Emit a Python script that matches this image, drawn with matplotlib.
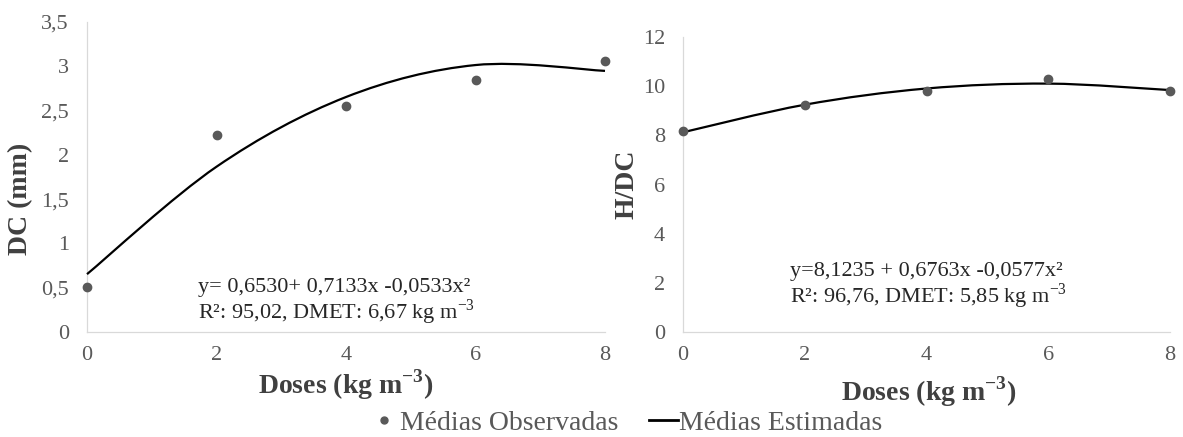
import matplotlib
matplotlib.use('Agg')
import matplotlib.pyplot as plt
from matplotlib.path import Path
from matplotlib.patches import PathPatch
from matplotlib.lines import Line2D
import numpy as np

plt.rcParams['font.family'] = ['Liberation Serif', 'DejaVu Serif']
plt.rcParams['mathtext.fontset'] = 'custom'
plt.rcParams['mathtext.rm'] = 'Liberation Serif'
plt.rcParams['mathtext.bf'] = 'Liberation Serif:bold'

doses = [0, 2, 4, 6, 8]
dc_obs = [0.51, 2.22, 2.55, 2.84, 3.06]
dc_est = [0.653, 1.866, 2.653, 3.014, 2.948]
hdc_obs = [8.18, 9.22, 9.82, 10.30, 9.80]
hdc_est = [8.124, 9.245, 9.905, 10.104, 9.841]

dc_ticks = [0, 0.5, 1, 1.5, 2, 2.5, 3, 3.5]
hdc_ticks = [0, 2, 4, 6, 8, 10, 12]

GREY = '#595959'
SPINE = '#d9d9d9'


def smooth_path(x, y):
    # excel-like smoothed line: cubic bezier between points
    pts = np.column_stack([x, y]).astype(float)
    n = len(pts)
    verts = [pts[0]]
    codes = [Path.MOVETO]
    for i in range(n - 1):
        p_prev = pts[i - 1] if i > 0 else pts[i]
        p_next2 = pts[i + 2] if i + 2 < n else pts[i + 1]
        c1 = pts[i] + (pts[i + 1] - p_prev) / 6.0
        c2 = pts[i + 1] - (p_next2 - pts[i]) / 6.0
        verts += [c1, c2, pts[i + 1]]
        codes += [Path.CURVE4] * 3
    return Path(verts, codes)


def style_axes(ax, ticks, labels):
    for s in ['top', 'right']:
        ax.spines[s].set_visible(False)
    for s in ['left', 'bottom']:
        ax.spines[s].set_color(SPINE)
        ax.spines[s].set_linewidth(0.9)
    ax.set_xlim(0, 8)
    ax.set_xticks(doses)
    ax.set_xticklabels([str(d) for d in doses])
    ax.set_yticks(ticks)
    ax.set_yticklabels(labels)
    ax.set_ylim(ticks[0], ticks[-1])
    ax.tick_params(length=0, labelsize=16, labelcolor=GREY)
    ax.tick_params(axis='x', pad=10)
    ax.tick_params(axis='y', pad=13)


fig = plt.figure(figsize=(11.83, 4.37), dpi=100)
W, H = 1183, 437
ax1 = fig.add_axes([87 / W, 1 - 332 / H, 518 / W, 310 / H])
ax2 = fig.add_axes([683 / W, 1 - 332 / H, 487 / W, 295 / H])

xlab = r'Doses (kg m$^{\mathbf{-3}}$)'
panels = [
    (ax1, dc_obs, dc_est, dc_ticks, 'DC (mm)',
     'y= 0,6530+ 0,7133x -0,0533x²', r'R²: 95,02, DMET: 6,67 kg m$^{-3}$'),
    (ax2, hdc_obs, hdc_est, hdc_ticks, 'H/DC',
     'y=8,1235 + 0,6763x -0,0577x²', r'R²: 96,76, DMET: 5,85 kg m$^{-3}$'),
]

for ax, obs, est, ticks, ylab, eq, r2 in panels:
    labels = [('%g' % t).replace('.', ',') for t in ticks]
    style_axes(ax, ticks, labels)
    patch = PathPatch(smooth_path(doses, est), facecolor='none',
                      edgecolor='black', lw=1.6, clip_on=False, zorder=3)
    ax.add_patch(patch)
    ax.plot(doses, obs, 'o', color=GREY, markersize=6, clip_on=False, zorder=4)
    ax.set_ylabel(ylab, fontsize=20, fontweight='bold', color='#404040')
    ax.set_xlabel(xlab, fontsize=20, fontweight='bold', color='#404040')

ax1.yaxis.set_label_coords(-0.104, 0.43)
ax1.xaxis.set_label_coords(0.5, -0.115)
ax2.yaxis.set_label_coords(-0.09, 0.5)
ax2.xaxis.set_label_coords(0.505, -0.145)

ax1.text(0.214, 0.128, panels[0][5], transform=ax1.transAxes, fontsize=16,
         va='baseline', ha='left', color='#262626')
ax1.text(0.214, 0.042, panels[0][6], transform=ax1.transAxes, fontsize=16,
         va='baseline', ha='left', color='#262626')
ax2.text(0.22, 0.19, panels[1][5], transform=ax2.transAxes, fontsize=16,
         va='baseline', ha='left', color='#262626')
ax2.text(0.22, 0.1, panels[1][6], transform=ax2.transAxes, fontsize=16,
         va='baseline', ha='left', color='#262626')

handles = [
    Line2D([], [], marker='o', color=GREY, linestyle='none', markersize=5),
    Line2D([], [], color='black', lw=2),
]
fig.legend(handles, ['Médias Observadas', 'Médias Estimadas'], loc='center',
           bbox_to_anchor=(626 / W, 1 - 423 / H), ncol=2, frameon=False,
           fontsize=20, handlelength=1.05, handletextpad=0.05,
           columnspacing=1.1, labelcolor=GREY, borderpad=0)

fig.savefig('out.png', dpi=100)
